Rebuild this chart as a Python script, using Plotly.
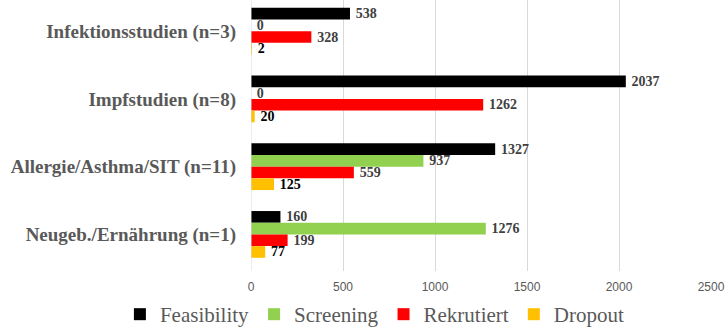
import plotly.graph_objects as go

categories = ["Infektionsstudien (n=3)", "Impfstudien (n=8)", "Allergie/Asthma/SIT (n=11)", "Neugeb./Ernährung (n=1)"]
feasibility = [538, 2037, 1327, 160]
screening = [0, 0, 937, 1276]
rekrutiert = [328, 1262, 559, 199]
dropout = [2, 20, 125, 77]
series_names = ["Feasibility", "Screening", "Rekrutiert", "Dropout"]
colors = ["#000000", "#92D050", "#FF0000", "#FFC000"]
label_colors = ["#404040", "#404040", "#404040", "#000000"]
tick_vals = [0, 500, 1000, 1500, 2000, 2500]

SERIF = "Liberation Serif, Times New Roman, serif"

fig = go.Figure()
for name, vals, col, lc in zip(series_names, [feasibility, screening, rekrutiert, dropout], colors, label_colors):
    fig.add_trace(go.Bar(
        y=categories, x=vals, name=name, orientation="h",
        marker=dict(color=col, line=dict(width=0)),
        text=["\u2009" + str(v) for v in vals], textposition="outside", constraintext="none",
        textfont=dict(family=SERIF, size=14, color=lc, weight="bold"),
        cliponaxis=False,
    ))

fig.update_layout(
    width=728, height=334,
    font=dict(family=SERIF, color="#595959"),
    margin=dict(l=251, r=17, t=0, b=63, autoexpand=False),
    barmode="group", bargap=0.31, bargroupgap=0,
    plot_bgcolor="white", paper_bgcolor="white",
    xaxis=dict(range=[0, 2500], tickvals=tick_vals, showgrid=True, gridcolor="#D9D9D9", gridwidth=1,
               zeroline=False, showline=False, ticklabelstandoff=7,
               tickfont=dict(family="Liberation Sans, Arial, sans-serif", size=12, color="#595959")),
    yaxis=dict(autorange=False, range=[3.54, -0.46], showgrid=False, zeroline=False, showline=False,
               ticklabelstandoff=14,
               tickfont=dict(family=SERIF, size=19, color="#595959", weight="bold")),
    legend=dict(orientation="h", x=-0.285, xanchor="left", xref="paper", y=-0.085, yanchor="top", yref="paper",
                font=dict(family=SERIF, size=21, color="#595959"),
                itemwidth=30, traceorder="normal"),
    showlegend=True,
)
fig.add_shape(type="line", xref="x", yref="paper", x0=0, x1=0, y0=0, y1=1, line=dict(color="#D9D9D9", width=1))

fig.write_html("out.html")
